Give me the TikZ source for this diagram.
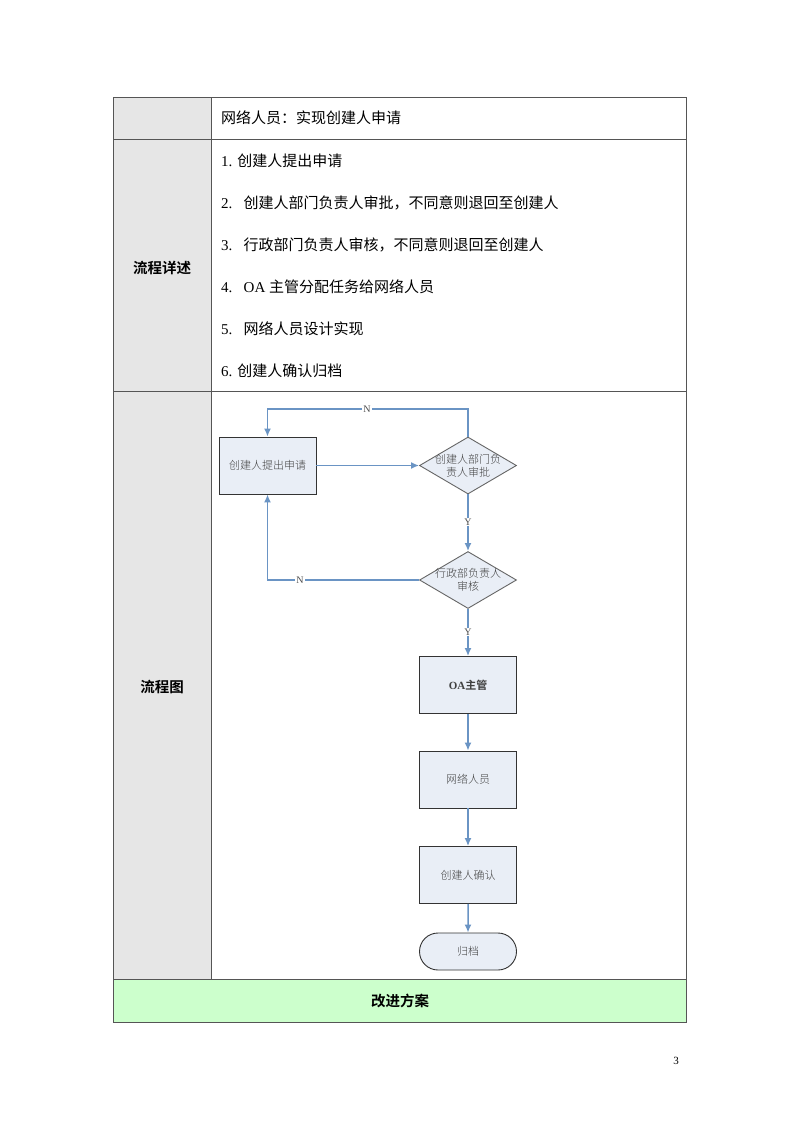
\documentclass[tikz,border=0pt]{standalone}
\usepackage{fontspec}
\setmainfont{Liberation Serif}
\newfontfamily\cjk{Noto Sans CJK SC}
\newfontfamily\cjkl{Noto Sans CJK SC Light}
\newfontfamily\cjkb{Noto Sans CJK SC Bold}
\usetikzlibrary{shapes.geometric,shapes.misc,arrows.meta}
\definecolor{grayfill}{HTML}{E6E6E6}
\definecolor{greenfill}{HTML}{CCFFCC}
\definecolor{boxfill}{HTML}{E9EEF6}
\definecolor{flowline}{HTML}{6A94C4}
\definecolor{tline}{HTML}{555555}
\tikzset{
  cell/.style={draw=tline, line width=0.9pt},
  listtxt/.style={anchor=west, inner sep=0pt, font=\fontsize{15}{17}\selectfont},
  lbl/.style={inner sep=0pt, font=\cjkb\fontsize{14.5}{16}\selectfont},
  ftext/.style={font=\cjkl\fontsize{11}{13}\selectfont, text=black!75},
  procbox/.style={draw=black!80, fill=boxfill, line width=0.9pt, minimum width=97pt, minimum height=57pt, inner sep=0pt, ftext},
  decision/.style={diamond, draw=black!60, fill=boxfill, line width=0.9pt, minimum width=97pt, minimum height=57pt, inner sep=0pt},
  dlabel/.style={ftext, align=center, inner sep=0pt},
  term/.style={rounded rectangle, draw=black!80, fill=boxfill, line width=0.9pt, minimum width=97pt, minimum height=37pt, inner sep=0pt, ftext},
  flow/.style={draw=flowline, line width=1.5pt, -{Latex[length=8pt,width=7pt]}},
  yn/.style={fill=white, inner sep=1pt, font=\fontsize{10}{11}\selectfont, text=black!70}
}
\begin{document}
\begin{tikzpicture}[x=1pt,y=-1pt]
\useasboundingbox (0,0) rectangle (800,1132);
\fill[white] (0,0) rectangle (800,1132);
% table backgrounds
\fill[grayfill] (113,97) rectangle (211,979);
\fill[greenfill] (113,979) rectangle (686,1022);
% table lines
\draw[cell] (113,97) rectangle (686,1022);
\draw[cell] (211,97) -- (211,979);
\draw[cell] (113,139) -- (686,139);
\draw[cell] (113,391) -- (686,391);
\draw[cell] (113,979) -- (686,979);
% texts
\node[listtxt] (r1) at (221,118) {\cjk 网络人员：实现创建人申请};
\node[listtxt] (l1) at (221,161) {1. {\cjk 创建人提出申请}};
\node[listtxt] (l2) at (221,203) {2.\ \ \ {\cjk 创建人部门负责人审批，不同意则退回至创建人}};
\node[listtxt] (l3) at (221,245) {3.\ \ \ {\cjk 行政部门负责人审核，不同意则退回至创建人}};
\node[listtxt] (l4) at (221,287) {4.\ \ \ OA {\cjk 主管分配任务给网络人员}};
\node[listtxt] (l5) at (221,329) {5.\ \ \ {\cjk 网络人员设计实现}};
\node[listtxt] (l6) at (221,371) {6. {\cjk 创建人确认归档}};
\node[lbl] (h1) at (162,268) {流程详述};
\node[lbl] (h2) at (162,687) {流程图};
\node[lbl] (h3) at (400,1001) {改进方案};
\node[inner sep=0pt, font=\fontsize{11}{12}\selectfont] (pg) at (676,1061) {3};
% flowchart
\node[procbox] (b1) at (267.5,465.5) {创建人提出申请};
\node[decision, label={[dlabel]center:创建人部门负\\责人审批}] (d1) at (468,465.5) {};
\node[decision, label={[dlabel]center:行政部负责人\\审核}] (d2) at (468,580) {};
\node[procbox] (b2) at (468,685) {\fontspec{Liberation Serif}\bfseries OA{\cjkl 主管}};
\node[procbox] (b3) at (468,779.5) {网络人员};
\node[procbox] (b4) at (468,875) {创建人确认};
\node[term] (t1) at (468,951.5) {归档};
\coordinate (c1) at (468,409);
\coordinate (c2) at (267.5,409);
\coordinate (c3) at (267.5,580);
\draw[flow] (b1) -- (d1);
\draw[flow] (d1.north) -- (c1) -- (c2) -- (b1.north);
\node[yn] (n1) at (367,409) {N};
\draw[flow] (d1.south) -- (d2.north);
\node[yn] (y1) at (468,522) {Y};
\draw[flow] (d2.west) -- (c3) -- (b1.south);
\node[yn] (n2) at (300,580) {N};
\draw[flow] (d2.south) -- (b2.north);
\node[yn] (y2) at (468,632) {Y};
\draw[flow] (b2) -- (b3);
\draw[flow] (b3) -- (b4);
\draw[flow] (b4) -- (t1);
\end{tikzpicture}
\end{document}
